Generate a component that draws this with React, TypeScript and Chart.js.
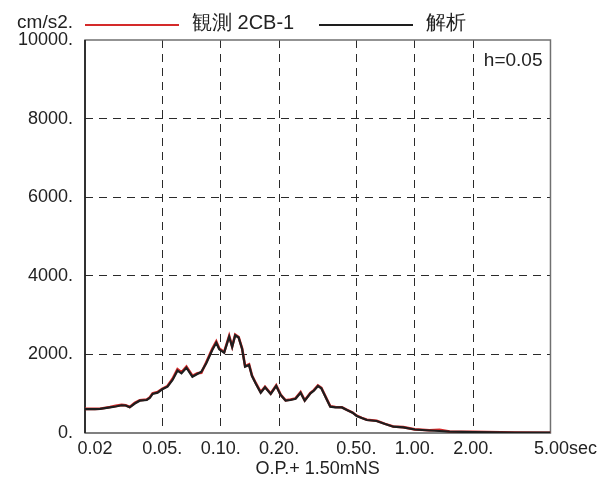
import { useEffect, useRef } from "react";
import { Chart, registerables } from "chart.js";

Chart.register(...registerables);

// ---- data ----
const periods = [
  0.02, 0.0225, 0.0239, 0.0269, 0.0288, 0.0309, 0.0324, 0.034, 0.0361, 0.0383,
  0.0416, 0.0431, 0.0446, 0.0473, 0.05, 0.0532, 0.0565, 0.0599, 0.0628, 0.0666,
  0.0715, 0.0758, 0.0795, 0.0843, 0.0905, 0.0949, 0.0983, 0.1042, 0.1106, 0.1146,
  0.1188, 0.1237, 0.129, 0.1336, 0.14, 0.145, 0.152, 0.1608, 0.1692, 0.181,
  0.1932, 0.2036, 0.216, 0.229, 0.243, 0.258, 0.271, 0.29, 0.302, 0.317,
  0.33, 0.353, 0.367, 0.39, 0.421, 0.447, 0.478, 0.502, 0.533, 0.566,
  0.636, 0.703, 0.775, 0.872, 1.0, 1.19, 1.34, 1.51, 1.99, 3.26, 5.0,
];

const observed = [
  615, 615, 618, 660, 690, 715, 705, 660, 765, 835,
  850, 905, 1010, 1040, 1125, 1195, 1380, 1625, 1545, 1690,
  1455, 1520, 1530, 1800, 2140, 2330, 2150, 2060, 2470, 2200,
  2500, 2440, 2150, 1700, 1745, 1460, 1260, 1040, 1175, 1005,
  1210, 975, 830, 850, 880, 1040, 830, 1020, 1090, 1210,
  1150, 850, 680, 660, 655, 590, 520, 440, 385, 335,
  310, 232, 165, 150, 92, 70, 82, 38, 28, 14, 8,
];

const analysis = [
  610, 610, 612, 654, 675, 705, 700, 654, 750, 822,
  840, 890, 993, 1026, 1112, 1178, 1349, 1586, 1519, 1662,
  1433, 1502, 1560, 1774, 2112, 2298, 2130, 2044, 2451, 2189,
  2486, 2430, 2138, 1687, 1731, 1450, 1247, 1026, 1163, 993,
  1196, 967, 822, 840, 873, 1026, 822, 1010, 1077, 1196,
  1138, 840, 669, 654, 650, 585, 517, 433, 382, 331,
  305, 229, 160, 145, 89, 64, 51, 33, 25, 12, 8,
];

const seriesNames = ["観測 2CB-1", "解析"];
const seriesColors = ["#d42a2a", "#1e1e1e"];

const xTickValues = [0.02, 0.05, 0.1, 0.2, 0.5, 1, 2, 5];
const xTickLabels = ["    0.02", "0.05.", "0.10.", "0.20.", "0.50.", "1.00.", "2.00.", "      5.00sec"];
const yTickValues = [0, 2000, 4000, 6000, 8000, 10000];
const yTickLabels = ["0.", "2000.", "4000.", "6000.", "8000.", "10000."];

const unitLabel = "cm/s2.";
const dampingLabel = "h=0.05";
const xTitle = "O.P.+ 1.50mNS";

const FONT = "'Liberation Sans', Arial, sans-serif";

const decorPlugin = {
  id: "decor",
  beforeDatasetsDraw(chart: any) {
    const { ctx, chartArea: a } = chart;
    ctx.save();
    ctx.strokeStyle = "#707070";
    ctx.lineWidth = 1.5;
    ctx.strokeRect(a.left, a.top, a.right - a.left, a.bottom - a.top);
    ctx.strokeStyle = "#808080";
    ctx.lineWidth = 2;
    ctx.beginPath();
    ctx.moveTo(a.left, a.bottom);
    ctx.lineTo(a.right, a.bottom);
    ctx.stroke();
    ctx.strokeStyle = "#111111";
    ctx.lineWidth = 1.5;
    ctx.beginPath();
    ctx.moveTo(a.left, a.top);
    ctx.lineTo(a.left, a.bottom);
    ctx.stroke();
    ctx.restore();
  },
  afterDraw(chart: any) {
    const { ctx, chartArea: a } = chart;
    ctx.save();
    ctx.fillStyle = "#222222";
    ctx.textBaseline = "middle";
    ctx.font = `19px ${FONT}`;
    ctx.textAlign = "right";
    ctx.fillText(unitLabel, a.left - 12, 23);
    // legend
    ctx.font = `20px ${FONT}`;
    const items = chart.data.datasets;
    const starts = [a.left, a.left + 234];
    items.forEach((ds: any, i: number) => {
      const x0 = starts[i];
      ctx.strokeStyle = ds.borderColor;
      ctx.lineWidth = 2;
      ctx.beginPath();
      ctx.moveTo(x0, 25);
      ctx.lineTo(x0 + 94, 25);
      ctx.stroke();
      ctx.textAlign = "left";
      ctx.fillStyle = "#222222";
      ctx.fillText(ds.label, x0 + 107, 23);
    });
    ctx.font = `19px ${FONT}`;
    ctx.textAlign = "right";
    ctx.fillText(dampingLabel, a.right - 8, a.top + 21);
    ctx.restore();
  },
};

export default function App() {
  const ref = useRef<HTMLCanvasElement | null>(null);

  useEffect(() => {
    if (!ref.current) return;
    const gridColor = (c: any) => {
      const v = c.tick ? c.tick.value : null;
      if (v === 0.02 || v === 5 || v === 0 || v === 10000) return "rgba(0,0,0,0)";
      return "#2a2a2a";
    };
    const chart = new Chart(ref.current, {
      type: "line",
      data: {
        datasets: [
          {
            label: seriesNames[0],
            data: periods.map((p, i) => ({ x: p, y: observed[i] })),
            borderColor: seriesColors[0],
            backgroundColor: seriesColors[0],
            borderWidth: 2.6,
            pointRadius: 0,
            tension: 0,
            order: 2,
          },
          {
            label: seriesNames[1],
            data: periods.map((p, i) => ({ x: p, y: analysis[i] })),
            borderColor: seriesColors[1],
            backgroundColor: seriesColors[1],
            borderWidth: 2.2,
            pointRadius: 0,
            tension: 0,
            order: 1,
          },
        ],
      },
      options: {
        animation: false,
        responsive: false,
        devicePixelRatio: 1,
        layout: { padding: { top: 40, right: 49, left: 0, bottom: 0 } },
        plugins: {
          legend: { display: false },
          tooltip: { enabled: false },
        },
        scales: {
          x: {
            type: "logarithmic",
            min: 0.02,
            max: 5,
            afterBuildTicks: (scale: any) => {
              scale.ticks = xTickValues.map((v) => ({ value: v }));
            },
            afterFit: (scale: any) => {
              scale.height = 51;
            },
            ticks: {
              autoSkip: false,
              maxRotation: 0,
              minRotation: 0,
              padding: 5,
              color: "#222222",
              font: { family: FONT, size: 18 },
              callback: (v: any) => {
                const i = xTickValues.indexOf(Number(v));
                return i >= 0 ? xTickLabels[i] : "";
              },
            },
            grid: { color: gridColor, lineWidth: 1, drawTicks: false },
            border: { display: false, dash: [8, 6] },
            title: {
              display: true,
              text: xTitle,
              color: "#222222",
              font: { family: FONT, size: 18 },
              padding: { top: 0, bottom: 4 },
            },
          },
          y: {
            type: "linear",
            min: 0,
            max: 10000,
            afterBuildTicks: (scale: any) => {
              scale.ticks = yTickValues.map((v) => ({ value: v }));
            },
            afterFit: (scale: any) => {
              scale.width = 85;
            },
            ticks: {
              padding: 12,
              color: "#222222",
              font: { family: FONT, size: 18 },
              callback: (v: any) => {
                const i = yTickValues.indexOf(Number(v));
                return i >= 0 ? yTickLabels[i] : "";
              },
            },
            grid: { color: gridColor, lineWidth: 1, drawTicks: false },
            border: { display: false, dash: [8, 6] },
          },
        },
      },
      plugins: [decorPlugin],
    } as any);
    return () => chart.destroy();
  }, []);

  return (
    <div style={{ position: "fixed", left: 0, top: 0, width: 602, height: 484, background: "#ffffff" }}>
      <canvas ref={ref} width={602} height={484} style={{ display: "block", width: 602, height: 484 }} />
    </div>
  );
}
